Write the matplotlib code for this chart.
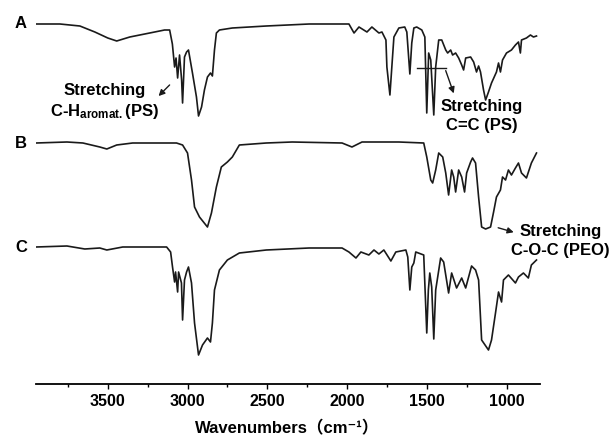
import matplotlib.pyplot as plt
import numpy as np

plt.rcParams['font.family'] = ['Liberation Sans', 'DejaVu Sans', 'Noto Sans CJK SC']
plt.rcParams['font.weight'] = 'bold'
plt.rcParams['mathtext.fontset'] = 'custom'
plt.rcParams['mathtext.rm'] = 'Liberation Sans:bold'
plt.rcParams['mathtext.default'] = 'regular'

# spectrum A (PS/PEO blend), wavenumber vs transmittance (a.u.)
wn_a = [3950, 3800, 3675, 3581, 3500, 3444, 3362, 3237, 3144, 3112, 3095, 3081, 3072,
        3062, 3050, 3037, 3031, 3019, 3006, 2994, 2969, 2944, 2931, 2912, 2894,
        2875, 2856, 2844, 2831, 2819, 2800, 2719, 2506, 2237, 2000, 1988, 1956,
        1925, 1875, 1844, 1800, 1781, 1756, 1750, 1731, 1719, 1706, 1675, 1638,
        1625, 1606, 1594, 1581, 1563, 1531, 1512, 1500, 1488, 1475, 1456, 1444,
        1425, 1406, 1381, 1369, 1350, 1338, 1319, 1300, 1281, 1269, 1256, 1225,
        1206, 1188, 1175, 1163, 1144, 1131, 1113, 1094, 1063, 1050, 1038, 1025, 1000,
        969, 944, 925, 913, 906, 875, 850, 831, 812]
t_a = [100, 100, 98, 92, 86, 83, 87, 91, 94, 94, 80, 57, 66,
       46, 69, 44, 21, 67, 72, 74, 51, 27, 8, 17, 34,
       47, 51, 48, 74, 91, 94, 96, 98, 100, 100, 100, 91,
       97, 92, 97, 91, 92, 84, 57, 29, 57, 87, 96, 97,
       92, 50, 81, 96, 97, 94, 87, 11, 71, 64, 9, 57,
       84, 84, 74, 71, 74, 69, 71, 66, 59, 54, 66, 67,
       62, 52, 58, 52, 34, 24, 32, 41, 52, 61, 52, 64, 71,
       74, 79, 82, 71, 84, 86, 89, 87, 88]

# spectrum B (PEO)
wn_b = [3950, 3756, 3656, 3550, 3506, 3444, 3344, 3069, 3031, 3000, 2975, 2956,
        2925, 2875, 2850, 2819, 2788, 2750, 2719, 2675, 2506, 2344, 2031, 1969,
        1906, 1675, 1519, 1500, 1475, 1463, 1444, 1425, 1400, 1381, 1363, 1344,
        1331, 1319, 1300, 1281, 1263, 1250, 1225, 1213, 1194, 1175, 1156, 1131,
        1100, 1081, 1063, 1038, 1025, 1006, 988, 969, 944, 925, 906, 875, 844, 812]
t_b = [100, 101, 100, 96, 94, 98, 100, 100, 98, 90, 63, 36,
       26, 16, 30, 56, 76, 81, 86, 98, 100, 101, 100, 96,
       101, 101, 100, 86, 63, 60, 73, 90, 86, 70, 48, 73,
       66, 51, 73, 66, 51, 70, 81, 85, 80, 46, 16, 14,
       16, 31, 46, 53, 66, 63, 73, 68, 75, 80, 70, 65, 80, 90]

# spectrum C (PS)
wn_c = [3950, 3756, 3644, 3550, 3506, 3406, 3131, 3106, 3094, 3081, 3075, 3062,
        3056, 3038, 3031, 3019, 3006, 2994, 2975, 2956, 2931, 2906, 2875, 2856,
        2844, 2831, 2800, 2750, 2675, 2506, 2238, 2031, 1988, 1944, 1913, 1863,
        1831, 1800, 1769, 1725, 1694, 1631, 1619, 1606, 1594, 1581, 1569, 1519,
        1500, 1490, 1481, 1469, 1456, 1444, 1413, 1394, 1363, 1344, 1313, 1281,
        1256, 1219, 1194, 1175, 1156, 1113, 1094, 1069, 1050, 1031, 1019, 988,
        944, 925, 894, 863, 844, 812]
t_c = [100, 101, 98, 99, 97, 100, 100, 95, 80, 65, 75, 55,
       75, 64, 27, 67, 75, 80, 64, 24, -8, 2, 9, 5,
       24, 57, 77, 87, 94, 97, 99, 99, 95, 89, 95, 92,
       97, 93, 97, 86, 95, 97, 90, 57, 80, 84, 95, 92,
       14, 57, 74, 60, 8, 57, 89, 85, 54, 74, 59, 69,
       59, 81, 77, 67, 7, -3, 7, 34, 55, 45, 67, 72,
       64, 70, 74, 69, 82, 87]

labels = ['A', 'B', 'C']
offsets = [0, -119, -223]
x_ticks = [3500, 3000, 2500, 2000, 1500, 1000]

fig = plt.figure(figsize=(6.15, 4.38), dpi=100)
ax = fig.add_axes([36 / 615, 1 - 384 / 438, 504 / 615, 374 / 438])

for wn, t, lab, off in zip([wn_a, wn_b, wn_c], [t_a, t_b, t_c], labels, offsets):
    ax.plot(wn, np.array(t) + off, color='#1a1a1a', lw=1.2)
    ax.text(4045, 100 + off, lab, fontsize=12, fontweight='bold',
            ha='center', va='center', clip_on=False)

ax.set_xlim(3950, 790)
ax.set_ylim(-260, 114)
ax.set_xticks(x_ticks)
ax.set_xticks([3750, 3250, 2750, 2250, 1750, 1250], minor=True)
ax.tick_params(axis='x', which='major', direction='out', length=3.5, width=1,
               labelsize=11.5, pad=4)
ax.tick_params(axis='x', which='minor', direction='out', length=2, width=1)
for lbl in ax.get_xticklabels():
    lbl.set_fontweight('bold')
ax.set_yticks([])
for s in ['top', 'left', 'right']:
    ax.spines[s].set_visible(False)
ax.spines['bottom'].set_linewidth(1.3)

fig.text(287 / 615, 1 - 428 / 438, 'Wavenumbers（cm⁻¹）', fontsize=12,
         fontweight='bold', ha='center', va='center')

# annotations
ax.annotate('', xy=(3194, 26), xytext=(3100, 41),
            arrowprops=dict(arrowstyle='-|>', color='#1a1a1a', lw=1,
                            mutation_scale=9))
ax.text(3519, 22, 'Stretching\nC-H$_{\\mathregular{aromat.}}$(PS)', fontsize=12,
        fontweight='bold', ha='center', va='center', linespacing=1.3)

ax.plot([1562, 1381], [56, 56], color='#1a1a1a', lw=1)
ax.annotate('', xy=(1325, 28), xytext=(1387, 56),
            arrowprops=dict(arrowstyle='-|>', color='#1a1a1a', lw=1,
                            mutation_scale=9))
ax.text(1156, 8, 'Stretching\nC=C (PS)', fontsize=12, fontweight='bold',
        ha='center', va='center', linespacing=1.3)

ax.annotate('', xy=(938, -109), xytext=(1069, -103),
            arrowprops=dict(arrowstyle='-|>', color='#1a1a1a', lw=1,
                            mutation_scale=9), annotation_clip=False)
ax.text(663, -117, 'Stretching\nC-O-C (PEO)', fontsize=12, fontweight='bold',
        ha='center', va='center', linespacing=1.3, clip_on=False)

fig.savefig('out.png', dpi=100)
